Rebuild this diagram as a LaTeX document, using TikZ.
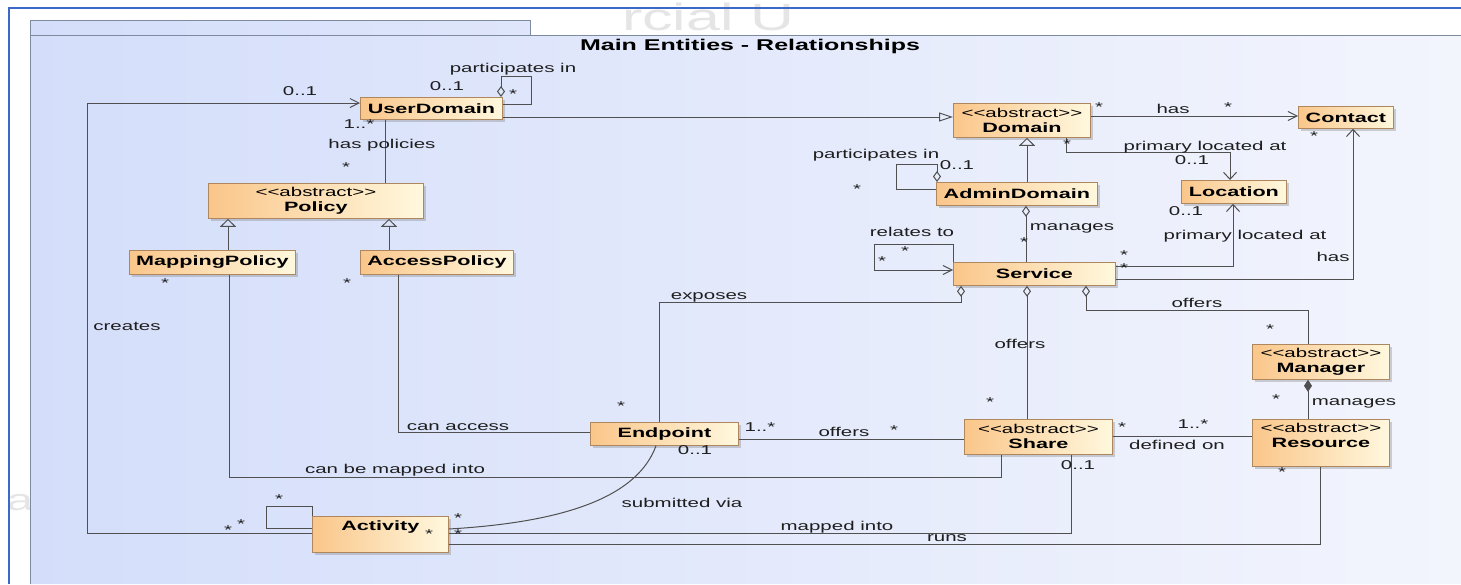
\documentclass[tikz,border=0pt]{standalone}
\usepackage{fontspec}
\newfontfamily\uml{Liberation Sans}[FakeStretch=1.6]
\usetikzlibrary{arrows.meta,shadows}
\newcommand\lblfont{\uml\fontsize{12.8}{15}\selectfont}
\newcommand\clsname[1]{{\fontsize{13.5}{15}\selectfont\bfseries #1}}
\definecolor{edgec}{RGB}{80,80,80}
\definecolor{clsborder}{RGB}{175,135,95}
\definecolor{clsleft}{RGB}{250,198,138}
\definecolor{clsright}{RGB}{255,248,222}
\definecolor{frameleft}{RGB}{212,222,250}
\definecolor{frameright}{RGB}{243,245,253}
\definecolor{framec}{RGB}{125,138,160}
\definecolor{bluebar}{RGB}{60,105,200}
\definecolor{txt}{RGB}{30,30,30}
\tikzset{
  cls/.style={draw=clsborder, line width=0.8pt, left color=clsleft, right color=clsright,
    anchor=north west, inner sep=0pt, align=center, font=\lblfont, text=black,
    drop shadow={shadow xshift=2.5pt, shadow yshift=-2.5pt, opacity=0.35, fill=gray}},
  lbl/.style={font=\lblfont, inner sep=0pt, text height=9pt, text depth=2.5pt, text=txt},
  starlbl/.style={lbl, yshift=-4pt},
  assoc/.style={draw=edgec, line width=1pt},
  navh/.style={-{Straight Barb[length=9pt,width=9pt]}},
  navv/.style={-{Straight Barb[length=7pt,width=13pt]}},
  genh/.style={-{Triangle[open,length=14pt,width=9pt]}},
  genv/.style={-{Triangle[open,length=8pt,width=16pt]}},
  aggr/.style={{Diamond[open,length=11pt,width=8pt]}-},
  compo/.style={{Diamond[length=12pt,width=8pt]}-}
}
\begin{document}
\begin{tikzpicture}[x=1pt,y=-1pt]
\useasboundingbox (0,0) rectangle (1461,584);
\fill[white] (0,0) rectangle (1461,584);
% watermark fragments
\node[anchor=base west, inner sep=0pt, text=gray!20, font=\uml\fontsize{38}{38}\selectfont] (wm1) at (622,30) {rcial U};
\node[text=gray!20, font=\uml\fontsize{30}{30}\selectfont] (wm2) at (20,503) {a};
% frame
\shade[left color=frameleft, right color=frameright] (30,584) -- (30,20) -- (530,20) -- (530,35) -- (1461,35) -- (1461,584) -- cycle;
\draw[framec, line width=1pt] (30,584) -- (30,20) -- (530,20) -- (530,35);
\draw[framec, line width=1pt] (30,35) -- (1461,35);
\draw[bluebar, line width=2pt] (9,584) -- (9,8) -- (1461,8);
\node[inner sep=0pt, font=\uml\fontsize{15.6}{17}\selectfont\bfseries, text=black] (title) at (750,46) {Main Entities - Relationships};

% classes
\node[cls, minimum width=142pt, minimum height=22pt] (ud) at (360,97) {\clsname{UserDomain}};
\node[cls, minimum width=137pt, minimum height=34pt] (dom) at (953,103) {<<abstract>>\\\clsname{Domain}};
\node[cls, minimum width=95pt, minimum height=22pt] (con) at (1298,106) {\clsname{Contact}};
\node[cls, minimum width=161pt, minimum height=23pt] (adm) at (936,182) {\clsname{AdminDomain}};
\node[cls, minimum width=105pt, minimum height=23pt] (loc) at (1181,180) {\clsname{Location}};
\node[cls, minimum width=162pt, minimum height=23pt] (srv) at (953,262) {\clsname{Service}};
\node[cls, minimum width=215pt, minimum height=35pt] (pol) at (208,183) {<<abstract>>\\\clsname{Policy}};
\node[cls, minimum width=166pt, minimum height=24pt] (mp) at (129,250) {\clsname{MappingPolicy}};
\node[cls, minimum width=153pt, minimum height=24pt] (ap) at (360,250) {\clsname{AccessPolicy}};
\node[cls, minimum width=148pt, minimum height=23pt] (ep) at (590,422) {\clsname{Endpoint}};
\node[cls, minimum width=148pt, minimum height=35pt] (sh) at (964,419) {<<abstract>>\\\clsname{Share}};
\node[cls, minimum width=137pt, minimum height=47pt] (res) at (1252,419) {<<abstract>>\\\clsname{Resource}\\[1pt]\mbox{}};
\node[cls, minimum width=137pt, minimum height=35pt] (man) at (1252,344) {<<abstract>>\\\clsname{Manager}};
\node[cls, minimum width=136pt, minimum height=36pt] (act) at (312,516) {\clsname{Activity}\\[3pt]\mbox{}};

% connectors
\draw[assoc, navh] (act.west |- 0,533) -- (87,533) -- (87,103) -- (ud.west |- 0,103);
\draw[assoc, aggr] (501,0 |- ud.north) -- (501,76) -- (531,76) -- (531,104) -- (ud.east |- 0,104);
\draw[assoc, genh] (ud.east |- 0,117) -- (dom.west |- 0,117);
\draw[assoc] (385,0 |- ud.south) -- (385,0 |- pol.north);
\draw[assoc, genv] (228,0 |- mp.north) -- (228,0 |- pol.south);
\draw[assoc, genv] (389,0 |- ap.north) -- (389,0 |- pol.south);
\draw[assoc, navh] (dom.east |- 0,116) -- (con.west |- 0,116);
\draw[assoc, navv] (1066,0 |- dom.south) -- (1066,152) -- (1230,152) -- (1230,0 |- loc.north);
\draw[assoc, genv] (1027,0 |- adm.north) -- (1027,0 |- dom.south);
\draw[assoc, aggr] (937,0 |- adm.north) -- (937,164) -- (896,164) -- (896,189) -- (adm.west |- 0,189);
\draw[assoc, aggr] (1026,0 |- adm.south) -- (1026,0 |- srv.north);
\draw[assoc, navh] (srv.north west) -- (953,244) -- (874,244) -- (874,270) -- (srv.west |- 0,270);
\draw[assoc, navv] (srv.east |- 0,266) -- (1233,266) -- (1233,0 |- loc.south);
\draw[assoc, navv] (srv.east |- 0,279) -- (1353,279) -- (1353,0 |- con.south);
\draw[assoc, aggr] (961,0 |- srv.south) -- (961,302) -- (659,302) -- (659,0 |- ep.north);
\draw[assoc, aggr] (1027,0 |- srv.south) -- (1027,0 |- sh.north);
\draw[assoc, aggr] (1086,0 |- srv.south) -- (1086,310) -- (1308,310) -- (1308,0 |- man.north);
\draw[assoc, compo] (1308,0 |- man.south) -- (1308,0 |- res.north);
\draw[assoc] (sh.east |- 0,436) -- (res.west |- 0,436);
\draw[assoc] (ep.east |- 0,439) -- (sh.west |- 0,439);
\draw[assoc] (398,0 |- ap.south) -- (398,432) -- (ep.west |- 0,432);
\draw[assoc] (229,0 |- mp.south) -- (229,477) -- (1001,477) -- (1001,0 |- sh.south);
\draw[assoc] (656,0 |- ep.south) .. controls (638,495) and (570,522) .. (act.east |- 0,529);
\draw[assoc] (1071,0 |- sh.south) -- (1071,533) -- (act.east |- 0,533);
\draw[assoc] (1320,0 |- res.south) -- (1320,544) -- (act.east |- 0,544);
\draw[assoc] (act.north west) -- (312,506) -- (266,506) -- (266,528) -- (act.west |- 0,528);

% text labels
\foreach \x/\y/\t [count=\i] in {
  300/92/0..1, 127/327/creates, 513/69/participates in, 447/87/0..1,
  359/125/1..*, 382/145/has policies, 1173/110/has, 1205/147/primary located at,
  1192/161/0..1, 876/155/participates in, 957/166/0..1, 1072/227/manages,
  912/233/relates to, 1186/212/0..1, 1245/236/primary located at, 1333/258/has,
  709/296/exposes, 1020/345/offers, 1197/304/offers, 1354/402/manages,
  1193/425/1..*, 1177/446/defined on, 760/428/1..*, 844/433/offers,
  458/427/can access, 395/470/can be mapped into, 695/451/0..1, 682/504/submitted via,
  1078/466/0..1, 837/527/mapped into, 947/538/runs}
  \node[lbl] (t\i) at (\x,\y) {\t};

% multiplicity stars
\foreach \x/\y [count=\i] in {
  228/527, 241/521, 513/91, 346/164, 1099/104, 1228/104, 1067/141, 857/186,
  1024/239, 905/248, 882/258, 1124/252, 1124/265, 1314/133, 621/403, 990/399,
  1270/326, 1276/396, 1122/424, 894/427, 347/280, 165/280, 458/515, 458/531,
  429/531, 279/496, 1282/469}
  \node[starlbl] (s\i) at (\x,\y) {*};
\end{tikzpicture}
\end{document}
